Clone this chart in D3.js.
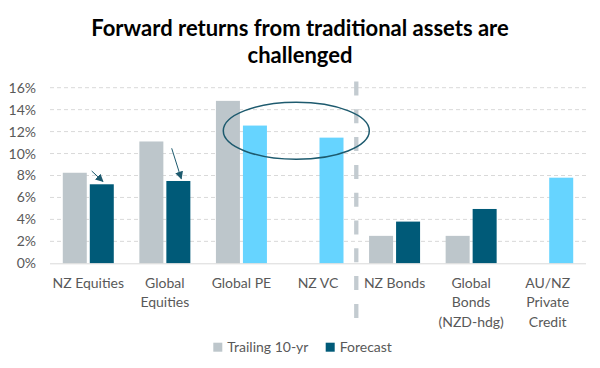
<!DOCTYPE html>
<html>
<head>
<meta charset="utf-8">
<script src="https://cdn.jsdelivr.net/npm/d3@7"></script>
<style>
  body { margin: 0; background: #fff; }
  text { font-family: Lato, "Open Sans", sans-serif; }
</style>
</head>
<body>
<svg id="chart" width="600" height="368"></svg>
<script>
// chart data
const categories = ["NZ Equities", "Global Equities", "Global PE", "NZ VC", "NZ Bonds", "Global Bonds (NZD-hdg)", "AU/NZ Private Credit"]
const catLabels = [["NZ Equities"], ["Global", "Equities"], ["Global PE"], ["NZ VC"], ["NZ Bonds"], ["Global", "Bonds", "(NZD-hdg)"], ["AU/NZ", "Private", "Credit"]]
const trailing = [8.25, 11.1, 14.8, null, 2.5, 2.5, null]
const forecast = [7.2, 7.5, 12.55, 11.45, 3.8, 4.95, 7.8]
// private markets get the light blue forecast bar
const isPrivate = [false, false, true, true, false, false, true]
const yTicks = [0, 2, 4, 6, 8, 10, 12, 14, 16]
const seriesNames = ["Trailing 10-yr", "Forecast"]

const colGrey = "#bdc6cb", colDark = "#005a78", colLight = "#66d4ff"

const svg = d3.select("#chart")
const W = 600

const x = d3.scaleBand().domain(categories).range([50, 586])
const y = d3.scaleLinear().domain([0, 16]).range([263.3, 87.7])

// title
svg.append("text").attr("x", 300).attr("y", 36).attr("text-anchor", "middle")
  .attr("font-size", 22).attr("font-weight", "bold").attr("fill", "#000")
  .text("Forward returns from traditional assets are")
svg.append("text").attr("x", 300).attr("y", 63).attr("text-anchor", "middle")
  .attr("font-size", 22).attr("font-weight", "bold").attr("fill", "#000")
  .text("challenged")

// gridlines
svg.append("g").selectAll("line").data(yTicks.slice(1)).join("line")
  .attr("x1", x.range()[0]).attr("x2", x.range()[1])
  .attr("y1", d => y(d)).attr("y2", d => y(d))
  .attr("stroke", "#d9d9d9").attr("stroke-dasharray", "4,3").attr("stroke-width", 1)

// y axis labels
const yAxis = svg.append("g").attr("transform", `translate(${x.range()[0]},0)`)
  .call(d3.axisLeft(y).tickValues(yTicks).tickFormat(d => d + "%").tickSize(0).tickPadding(14))
yAxis.select(".domain").remove()
yAxis.selectAll("text").attr("font-size", 14).attr("fill", "#595959")
  .style("font-family", "Lato, 'Open Sans', sans-serif")

// bars
const bw = 24, gap = 1.5
const bars = svg.append("g")
categories.forEach((c, i) => {
  const cx = x(c) + x.bandwidth() / 2
  if (trailing[i] != null) {
    bars.append("rect").attr("x", cx - gap - bw).attr("width", bw)
      .attr("y", y(trailing[i])).attr("height", y(0) - y(trailing[i]))
      .attr("fill", colGrey)
  }
  bars.append("rect").attr("x", cx + gap).attr("width", bw)
    .attr("y", y(forecast[i])).attr("height", y(0) - y(forecast[i]))
    .attr("fill", isPrivate[i] ? colLight : colDark)
})

// baseline
svg.append("line").attr("x1", x.range()[0]).attr("x2", x.range()[1])
  .attr("y1", y(0) + 0.5).attr("y2", y(0) + 0.5).attr("stroke", "#d9d9d9").attr("stroke-width", 1)

// x labels
const xl = svg.append("g")
categories.forEach((c, i) => {
  const t = xl.append("text").attr("text-anchor", "middle").attr("font-size", 14).attr("fill", "#595959")
  catLabels[i].forEach((ln, j) => {
    t.append("tspan").attr("x", x(c) + x.bandwidth() / 2).attr("y", 287.5 + j * 19.5).text(ln)
  })
})

// divider between equity-like and bond-like assets
const divX = x(categories[4])
svg.append("line").attr("x1", divX).attr("x2", divX).attr("y1", 81.5).attr("y2", 321)
  .attr("stroke", "#c3cbd0").attr("stroke-width", 4.3).attr("stroke-dasharray", "14,13.8")

// ellipse round the private markets
svg.append("ellipse").attr("cx", 296.3).attr("cy", 130.8).attr("rx", 73).attr("ry", 28.5)
  .attr("fill", "none").attr("stroke", "#1d5a6e").attr("stroke-width", 1.5)

// arrows
svg.append("defs").append("marker").attr("id", "ah").attr("viewBox", "0 0 10 10")
  .attr("refX", 9).attr("refY", 5).attr("markerWidth", 8).attr("markerHeight", 8)
  .attr("markerUnits", "userSpaceOnUse")
  .attr("orient", "auto").append("path").attr("d", "M0,0L10,5L0,10z").attr("fill", "#1d5a6e")
const arrows = [[91.7, 171, 103, 181.5], [171.7, 148.3, 181.3, 178.8]]
svg.append("g").selectAll("line").data(arrows).join("line")
  .attr("x1", d => d[0]).attr("y1", d => d[1]).attr("x2", d => d[2]).attr("y2", d => d[3])
  .attr("stroke", "#1d5a6e").attr("stroke-width", 1).attr("marker-end", "url(#ah)")

// legend
const lg = svg.append("g")
const legX = [213.3, 325.7]
const legCol = [colGrey, colDark]
seriesNames.forEach((s, i) => {
  lg.append("rect").attr("x", legX[i]).attr("y", 342.7).attr("width", 9).attr("height", 9).attr("fill", legCol[i])
  lg.append("text").attr("x", legX[i] + 14).attr("y", 352).attr("font-size", 14).attr("fill", "#595959").text(s)
})
</script>
</body>
</html>
